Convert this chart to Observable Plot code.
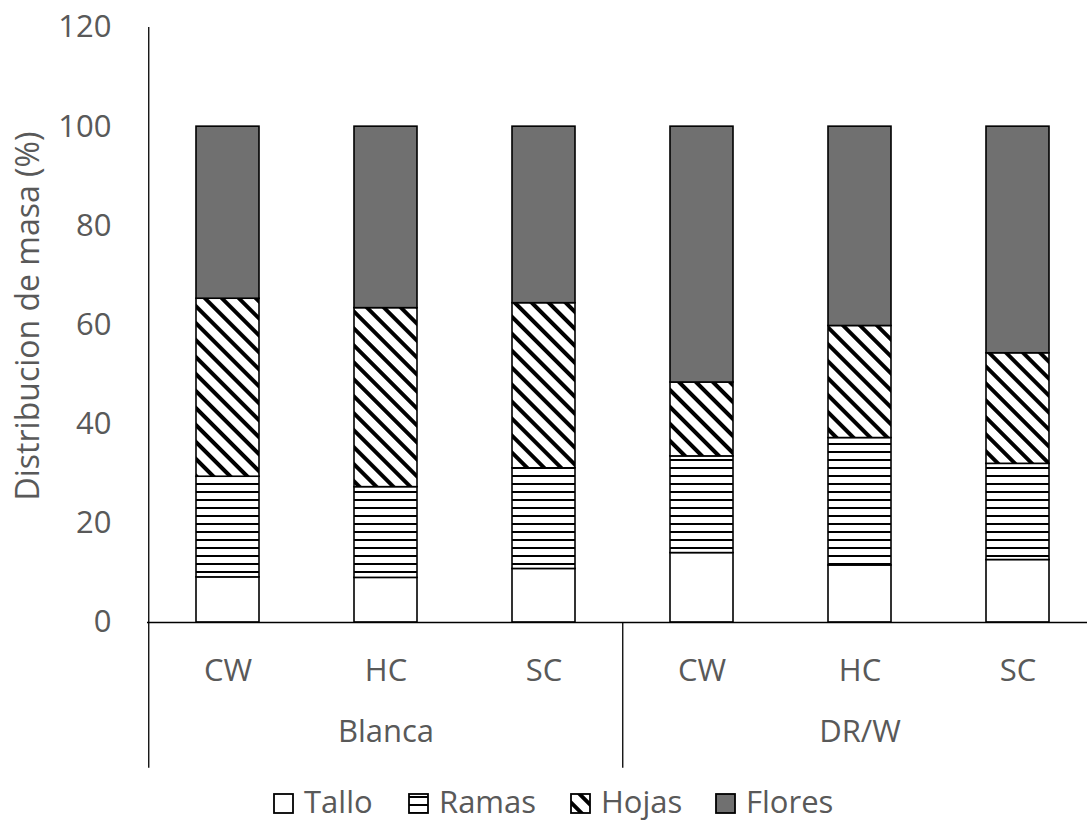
<!DOCTYPE html>
<html>
<head>
<meta charset="utf-8">
<script src="https://cdn.jsdelivr.net/npm/d3@7"></script>
<script src="https://cdn.jsdelivr.net/npm/@observablehq/plot@0.6"></script>
<style>
  body { margin: 0; background: #fff; overflow: hidden; font-family: "Open Sans", sans-serif; }
  #legend { position: relative; height: 44px; color: #595959; font-size: 31px; line-height: 31px; }
  #legend .item { position: absolute; top: 6px; height: 31px; display: flex; align-items: center; }
  #legend svg { margin-right: 10px; margin-top: 4px; }
</style>
</head>
<body>
<div id="chart"></div>
<div id="legend"></div>
<script>
// Mass distribution (%) by plant part, for two varieties and three treatments
const groups = ["Blanca", "DR/W"];
const treatments = ["CW", "HC", "SC"];
const parts = ["Tallo", "Ramas", "Hojas", "Flores"];

// one value per bar, in order Blanca CW, HC, SC, DR/W CW, HC, SC
const tallo  = [9.1, 9.0, 10.8, 14.0, 11.5, 12.6];
const ramas  = [20.3, 18.3, 20.3, 19.5, 25.7, 19.4];
const hojas  = [35.9, 36.1, 33.3, 14.9, 22.6, 22.3];
const flores = [34.7, 36.6, 35.6, 51.6, 40.2, 45.7];

const yTicks = [0, 20, 40, 60, 80, 100, 120];

const fills = {Tallo: "white", Ramas: "url(#pat-ramas)", Hojas: "url(#pat-hojas)", Flores: "#707070"};
const series = {Tallo: tallo, Ramas: ramas, Hojas: hojas, Flores: flores};

const keys = groups.flatMap(g => treatments.map(t => `${g}|${t}`));
const rows = keys.flatMap((k, i) => parts.map(p => ({key: k, part: p, value: series[p][i], fill: fills[p]})));

const textColor = "#595959";
const fontSize = 31;
const xRange = [147, 1098];
const step = (xRange[1] - xRange[0]) / keys.length;
const catDepth = -29.4; // how far the category-axis lines run below zero, in y units

// hatch patterns for the bar fills
function patterns() {
  const defs = d3.create("svg:defs");
  const r = defs.append("pattern").attr("id", "pat-ramas")
    .attr("patternUnits", "userSpaceOnUse").attr("width", 8).attr("height", 8);
  r.append("rect").attr("width", 8).attr("height", 8).attr("fill", "white");
  r.append("rect").attr("y", 3).attr("width", 8).attr("height", 2).attr("fill", "black");
  const h = defs.append("pattern").attr("id", "pat-hojas")
    .attr("patternUnits", "userSpaceOnUse").attr("width", 12).attr("height", 12)
    .attr("patternTransform", "rotate(45)");
  h.append("rect").attr("width", 12).attr("height", 12).attr("fill", "white");
  h.append("rect").attr("y", 4).attr("width", 12).attr("height", 4).attr("fill", "black");
  return defs.node();
}

const chart = Plot.plot({
  width: 1087,
  height: 780,
  marginLeft: 147,
  marginRight: 0,
  marginTop: 27,
  marginBottom: 158,
  style: {fontFamily: "'Open Sans', sans-serif", fontSize: `${fontSize}px`, color: textColor, background: "white"},
  x: {domain: keys, range: xRange, paddingInner: 0.6, paddingOuter: 0.3, axis: null},
  y: {domain: [0, 120], axis: null},
  color: {type: "identity"},
  marks: [
    patterns,
    Plot.barY(rows, {x: "key", y: "value", fill: "fill", stroke: "black", strokeWidth: 1.6}),
    Plot.ruleY([0], {stroke: "black", strokeWidth: 1.3}),
    Plot.ruleX([{k: keys[0], top: 120}, {k: keys[3], top: 0}],
      {x: "k", y1: "top", y2: catDepth, dx: -step / 2, stroke: "black", strokeWidth: 1.3}),
    Plot.axisY({ticks: yTicks, tickSize: 0, tickPadding: 36, label: null, fill: textColor}),
    Plot.axisX({tickSize: 0, tickPadding: 36, tickFormat: k => k.split("|")[1], label: null, fill: textColor}),
    Plot.text(groups, {x: g => `${g}|HC`, frameAnchor: "bottom", dy: 119, fill: textColor}),
    Plot.text(["Distribucion de masa (%)"], {
      frameAnchor: "left", textAnchor: "middle", lineAnchor: "middle",
      rotate: -90, dx: -119, dy: -9, fontSize: 32, fill: textColor
    })
  ]
});
document.getElementById("chart").append(chart);

// legend below the chart
const legendX = [273, 408, 570, 715];
const legend = d3.select("#legend");
parts.forEach((p, i) => {
  const item = legend.append("div").attr("class", "item").style("left", `${legendX[i]}px`);
  const sw = item.append("svg").attr("width", 21).attr("height", 21);
  sw.append("rect").attr("x", 1).attr("y", 1).attr("width", 19).attr("height", 19)
    .attr("fill", fills[p]).attr("stroke", "black").attr("stroke-width", 1.8);
  item.append("span").text(p);
});
</script>
</body>
</html>
